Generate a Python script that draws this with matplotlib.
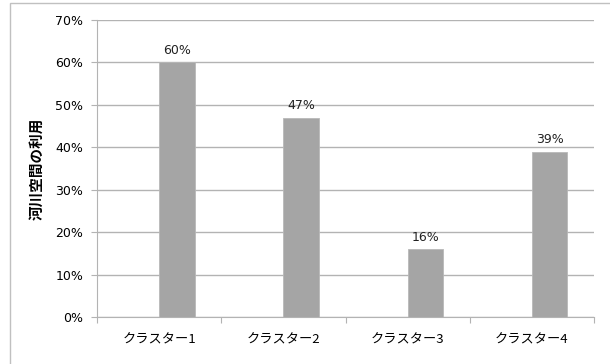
import numpy as np
import matplotlib.pyplot as plt
from matplotlib.patches import Rectangle
from matplotlib.ticker import FuncFormatter

# cluster share of "river-space use"
clusters = ["クラスター1", "クラスター2", "クラスター3", "クラスター4"]
usage = [0.60, 0.47, 0.16, 0.39]
yticks = [0, 0.1, 0.2, 0.3, 0.4, 0.5, 0.6, 0.7]

plt.rcParams['font.family'] = ['Noto Sans CJK JP', 'DejaVu Sans']
NUM_FONT = ['DejaVu Sans']

fig = plt.figure(figsize=(6.1, 3.64), dpi=100)
ax = fig.add_axes([97 / 610, 47 / 364, 497 / 610, 297 / 364])

# outer chart frame (like an Excel chart area)
fig.patches.append(Rectangle((10 / 610, -0.05), 1.2, 361 / 364 + 0.05,
                             transform=fig.transFigure, fill=False,
                             edgecolor="#c0c0c0", linewidth=1.0))

x = np.arange(len(clusters))
bars = ax.bar(x, usage, width=0.285, align="edge", color="#a5a5a5",
              edgecolor="#b8b8b8", linewidth=0.6, zorder=3)
for b, v in zip(bars, usage):
    ax.text(b.get_x() + b.get_width() / 2, v + 0.012, f"{v * 100:.0f}%",
            ha="center", va="bottom", fontsize=9, color="#222222",
            family=NUM_FONT)

ax.set_xlim(-0.5, len(clusters) - 0.5)
ax.set_ylim(0, 0.7)
ax.set_yticks(yticks)
ax.yaxis.set_major_formatter(FuncFormatter(lambda v, _: f"{v * 100:.0f}%"))
ax.yaxis.grid(True, color="#b3b3b3", linewidth=1.0, zorder=0)

# boundary ticks between categories, labels on the centres
ax.set_xticks(np.arange(len(clusters) + 1) - 0.5)
ax.set_xticklabels([])
ax.set_xticks(x, minor=True)
ax.set_xticklabels(clusters, minor=True, fontsize=9.5)
ax.tick_params(axis="x", which="minor", length=0, pad=12)
ax.tick_params(axis="x", which="major", length=4, color="#b3b3b3")
ax.tick_params(axis="y", length=4, color="#b3b3b3", pad=6, labelsize=9)
for lbl in ax.get_yticklabels():
    lbl.set_family(NUM_FONT)

for s in ["top", "right"]:
    ax.spines[s].set_visible(False)
for s in ["left", "bottom"]:
    ax.spines[s].set_color("#b3b3b3")

ax.set_ylabel("河川空間の利用", fontsize=10.5, fontweight="bold", labelpad=8)

fig.savefig("out.png", dpi=100)
